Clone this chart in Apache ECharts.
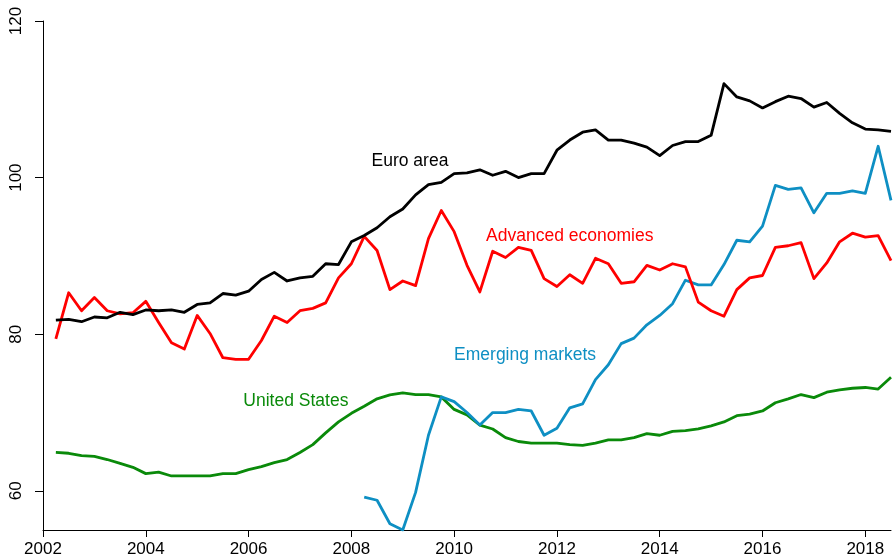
<!DOCTYPE html>
<html>
<head>
<meta charset="utf-8">
<script src="https://cdn.jsdelivr.net/npm/echarts@6/dist/echarts.min.js"></script>
<style>
  html, body {margin: 0; padding: 0; background: #fff;}
  #chart {width: 894px; height: 560px;}
</style>
</head>
<body>
<div id="chart"></div>
<script>
// quarterly index, first point 2002 Q2, last 2018 Q2
var firstQuarter = 2002.25
var xTicks = [2002, 2004, 2006, 2008, 2010, 2012, 2014, 2016, 2018]
var yTicks = [60, 80, 100, 120]

var euroArea = [81.8, 81.9, 81.6, 82.2, 82.1, 82.8, 82.5, 83.1, 83.0, 83.1, 82.8, 83.8, 84.0, 85.2, 85.0, 85.5,
  87.0, 87.9, 86.8, 87.2, 87.4, 89.0, 88.9, 91.8, 92.6, 93.6, 95.0, 96.0, 97.8, 99.1, 99.4, 100.5,
  100.6, 101.0, 100.3, 100.8, 100.0, 100.5, 100.5, 103.5, 104.8, 105.8, 106.1, 104.8, 104.8, 104.4, 103.9, 102.8,
  104.1, 104.6, 104.6, 105.4, 112.0, 110.3, 109.8, 108.9, 109.7, 110.4, 110.1, 109.0, 109.6, 108.2, 107.0, 106.2,
  106.1, 105.9]
var advanced = [79.4, 85.3, 83.0, 84.7, 83.0, 82.6, 82.75, 84.2, 81.5, 78.9, 78.1, 82.4, 80.1, 77.0, 76.8, 76.8,
  79.2, 82.3, 81.5, 83.0, 83.3, 84.0, 87.2, 89.0, 92.5, 90.7, 85.7, 86.8, 86.2, 92.2, 95.8, 93.1,
  88.8, 85.4, 90.6, 89.8, 91.1, 90.7, 87.1, 86.1, 87.6, 86.5, 89.7, 89.0, 86.5, 86.7, 88.8, 88.2,
  89.0, 88.6, 84.1, 83.0, 82.3, 85.7, 87.2, 87.5, 91.1, 91.3, 91.7, 87.1, 89.1, 91.8, 92.9, 92.4,
  92.6, 89.4]
var emerging = [null, null, null, null, null, null, null, null, null, null, null, null, null, null, null, null,
  null, null, null, null, null, null, null, null, 59.2, 58.8, 55.8, 55.0, 59.8, 67.1, 72.0, 71.4,
  70.0, 68.4, 70.0, 70.0, 70.4, 70.2, 67.1, 68.0, 70.6, 71.1, 74.2, 76.1, 78.8, 79.5, 81.2, 82.4,
  83.9, 86.9, 86.3, 86.3, 88.9, 92.0, 91.8, 93.8, 99.0, 98.5, 98.7, 95.5, 98.0, 98.0, 98.3, 98.0,
  104.0, 97.1]
var unitedStates = [64.9, 64.8, 64.5, 64.4, 64.0, 63.5, 63.0, 62.2, 62.4, 61.9, 61.9, 61.9, 61.9, 62.2, 62.2, 62.7,
  63.1, 63.6, 64.0, 64.9, 65.9, 67.4, 68.8, 69.9, 70.8, 71.75, 72.25, 72.5, 72.3, 72.3, 72.0, 70.4,
  69.7, 68.4, 67.9, 66.8, 66.3, 66.1, 66.1, 66.1, 65.9, 65.8, 66.1, 66.5, 66.5, 66.8, 67.3, 67.1,
  67.6, 67.7, 67.9, 68.3, 68.8, 69.6, 69.8, 70.2, 71.25, 71.75, 72.3, 71.9, 72.6, 72.9, 73.1, 73.2,
  73.0, 74.5]

var seriesNames = ['Euro area', 'Advanced economies', 'Emerging markets', 'United States']
var seriesColors = ['#000000', '#ff0000', '#0e8fc3', '#0a8a0a']
// where each series name is written, in data units [year, value]
var labelAnchors = [[2009.14, 102.1], [2012.25, 92.5], [2011.38, 77.3], [2006.92, 71.5]]

var font = 'Liberation Sans, Arial, sans-serif'

function toPairs(values) {
  return values.map(function (v, i) {
    return [firstQuarter + i * 0.25, v]
  })
}

var chart = echarts.init(document.getElementById('chart'))

var seriesData = [euroArea, advanced, emerging, unitedStates]

var option = {
  animation: false,
  backgroundColor: '#fff',
  grid: {left: 43, right: 3, top: 21, bottom: 30},
  xAxis: {
    type: 'value',
    min: 2002,
    max: 2018.5,
    splitLine: {show: false},
    axisLine: {lineStyle: {color: '#000', width: 1}},
    axisTick: {length: 7, lineStyle: {color: '#000'}, customValues: xTicks},
    axisLabel: {
      customValues: xTicks, color: '#000', fontSize: 17, fontFamily: font, margin: 11,
      formatter: function (v) { return String(v) }
    }
  },
  yAxis: {
    type: 'value',
    min: 55,
    max: 120,
    splitLine: {show: false},
    axisLine: {show: true, lineStyle: {color: '#000', width: 1}},
    axisTick: {show: true, length: 8, lineStyle: {color: '#000'}, customValues: yTicks},
    axisLabel: {customValues: yTicks, color: '#000', fontSize: 17, fontFamily: font, rotate: 90, margin: 18}
  },
  series: seriesData.map(function (vals, i) {
    return {
      name: seriesNames[i],
      type: 'line',
      showSymbol: false,
      connectNulls: false,
      lineStyle: {color: seriesColors[i], width: 2.8, join: 'round'},
      data: toPairs(vals),
      z: 10 - i
    }
  })
}

chart.setOption(option)

var texts = labelAnchors.map(function (a, i) {
  var p = chart.convertToPixel({gridIndex: 0}, a)
  return {
    type: 'text',
    x: p[0],
    y: p[1],
    style: {
      text: seriesNames[i], fill: seriesColors[i], font: '17.5px ' + font,
      textAlign: 'center', textVerticalAlign: 'middle'
    },
    z: 100
  }
})
chart.setOption({graphic: texts})
</script>
</body>
</html>
